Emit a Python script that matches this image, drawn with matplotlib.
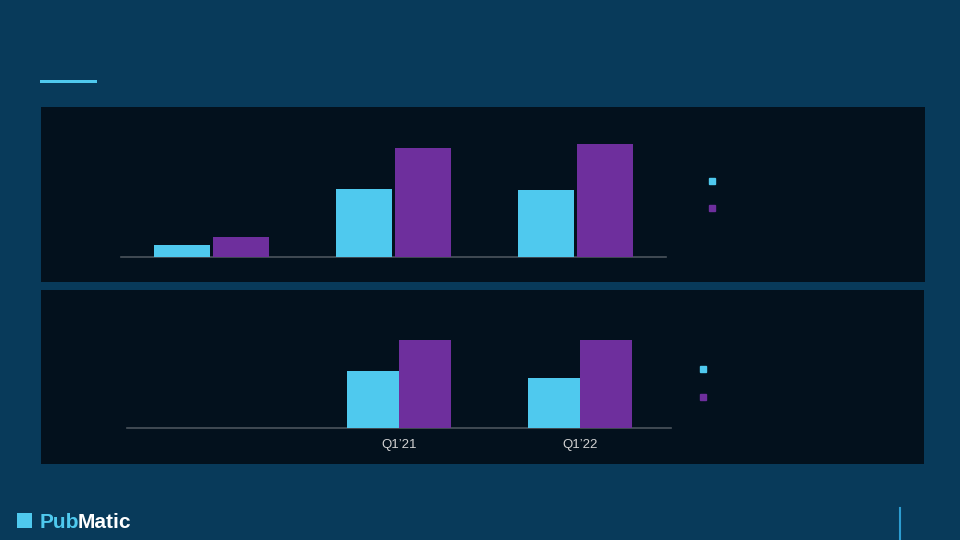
import matplotlib
matplotlib.use("Agg")
import matplotlib.pyplot as plt
import numpy as np
from matplotlib.patches import Rectangle
from matplotlib.lines import Line2D
from matplotlib.text import Annotation

# ---- data ----
categories = ["Q1\u201920", "Q1\u201921", "Q1\u201922"]
top_series_a = [12, 68, 67]
top_series_b = [20, 109, 113]
bottom_labels = ["", "Q1\u201921", "Q1\u201922"]
bottom_series_a = [np.nan, 57, 50]
bottom_series_b = [np.nan, 88, 88]

BG = "#083a5a"
PANEL = "#03111d"
CYAN = "#4fc9ee"
PURPLE = "#6e2f9d"
AXIS = "#4a545c"

W, H = 960, 540
plt.rcParams['font.family'] = ['Liberation Sans', 'DejaVu Sans']
fig = plt.figure(figsize=(9.6, 5.4), dpi=100, facecolor=BG)


def fx(px):
    return px / W


def fy(py):
    return 1 - py / H


def rect_px(x0, y0, x1, y1, color, z=0):
    fig.add_artist(Rectangle((fx(x0), fy(y1)), fx(x1 - x0), (y1 - y0) / H,
                             transform=fig.transFigure, facecolor=color,
                             edgecolor="none", zorder=z))


# panels
rect_px(41, 107, 925, 282, PANEL)
rect_px(41, 290, 924, 464, PANEL)
# title accent
rect_px(40, 80, 97, 83, CYAN)


def make_axes(x0, x1, base, top):
    ax = fig.add_axes([fx(x0), fy(base), fx(x1 - x0), (base - top) / H])
    ax.set_facecolor("none")
    ax.set_ylim(0, base - top)
    ax.set_xlim(-0.5, len(categories) - 0.5)
    for s in ["top", "right", "left"]:
        ax.spines[s].set_visible(False)
    ax.spines["bottom"].set_color(AXIS)
    ax.spines["bottom"].set_linewidth(1.2)
    ax.set_yticks([])
    ax.tick_params(axis="x", length=0, colors="#d2d2d2", labelsize=9.5, pad=8)
    return ax


x = np.arange(len(categories))

# top chart
ax1 = make_axes(121, 666, 257, 120)
bw = 0.308
gap = 0.009
ax1.bar(x - bw / 2 - gap, top_series_a, width=bw, color=CYAN, zorder=3)
ax1.bar(x + bw / 2 + gap, top_series_b, width=bw, color=PURPLE, zorder=3)
ax1.set_xticks(x)
ax1.set_xticklabels([])

# bottom chart
ax2 = make_axes(127, 671, 428, 300)
bw2 = 0.287
ax2.bar(x - bw2 / 2, bottom_series_a, width=bw2, color=CYAN, zorder=3)
ax2.bar(x + bw2 / 2, bottom_series_b, width=bw2, color=PURPLE, zorder=3)
ax2.set_xticks(x)
ax2.set_xticklabels(bottom_labels)

# legend markers
for (lx, ly, c) in [(712, 181, CYAN), (712, 208, PURPLE),
                    (703, 369, CYAN), (703, 397, PURPLE)]:
    fig.add_artist(Line2D([fx(lx)], [fy(ly)], marker="s", markersize=5,
                          color=c, linestyle="", transform=fig.transFigure))

# footer
rect_px(17, 513, 32, 528, CYAN)
t1 = fig.text(fx(40), fy(528), "Pub", color=CYAN, fontsize=15,
              fontweight="bold", va="baseline", ha="left")
fig.add_artist(Annotation(
    "Matic", xy=(1, 0), xycoords=t1, xytext=(-1.5, 0), textcoords="offset points",
    color="white", fontsize=15, fontweight="bold", va="bottom", ha="left"))
fig.add_artist(Line2D([fx(900), fx(900)], [fy(508), fy(540)],
                      color="#2c9cd0", linewidth=1.5, transform=fig.transFigure))

fig.savefig("out.png", dpi=100, facecolor=BG)
